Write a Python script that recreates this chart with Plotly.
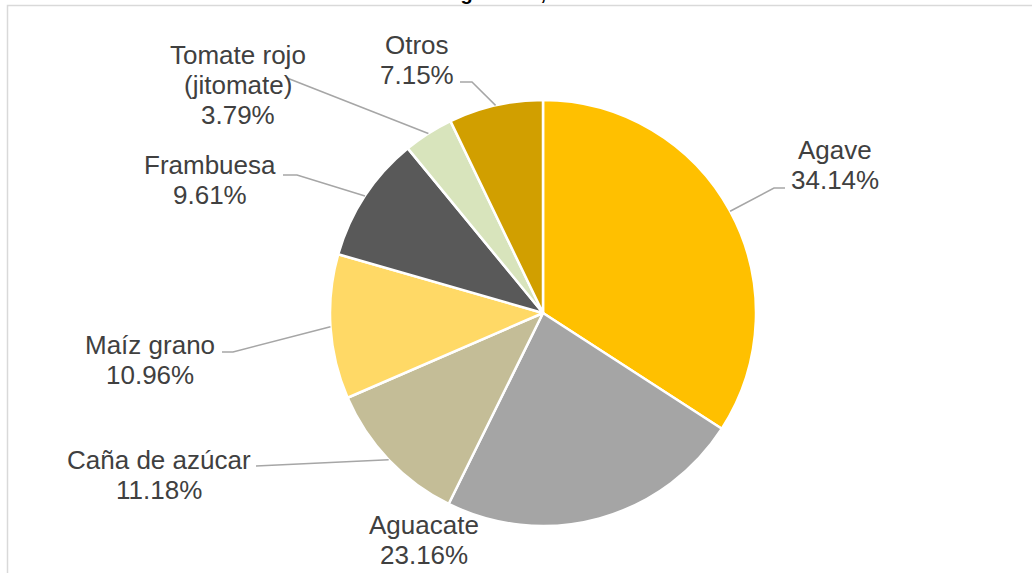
import math
import plotly.graph_objects as go

categories = ["Agave", "Aguacate", "Caña de azúcar", "Maíz grano", "Frambuesa",
              "Tomate rojo<br>(jitomate)", "Otros"]
values = [34.14, 23.16, 11.18, 10.96, 9.61, 3.79, 7.15]
value_labels = ["34.14%", "23.16%", "11.18%", "10.96%", "9.61%", "3.79%", "7.15%"]
colors = ["#FFC000", "#A5A5A5", "#C4BD97", "#FFD966", "#595959", "#D8E4BC", "#D19F00"]
title_text = "Región Sur, 2020"

W, H = 1032, 573
CX, CY, R = 543, 313, 213
LINE = 30

# label centre x and first-line centre y (pixels); leader elbows (None = no leader)
label_pos = [(835, 150), (424, 525), (159, 460), (150, 345), (210, 165), (238, 55), (417, 45)]
leader_elbow = [[(774, 188), (785, 188)], None, [(256, 466)], [(233, 352), (222, 352)],
                [(297, 175), (283, 175)], [(287, 78)], [(472, 82), (460, 82)]]

def px(x, y):
    return x / W, 1 - y / H

fig = go.Figure()
x0, y1 = px(CX - R, CY - R)
x1, y0 = px(CX + R, CY + R)
fig.add_trace(go.Pie(
    labels=[c.replace("<br>", " ") for c in categories], values=values,
    sort=False, direction="clockwise", rotation=0,
    marker=dict(colors=colors, line=dict(color="white", width=2.5)),
    textinfo="none", hoverinfo="label+percent",
    domain=dict(x=[x0, x1], y=[y0, y1]),
))

shapes = []
annotations = []
total = sum(values)
cum = 0.0
font = dict(family="Liberation Sans, Arial", size=26, color="#404040")
for i, v in enumerate(values):
    mid = (cum + v / 2) / total * 2 * math.pi
    cum += v
    ex = CX + R * math.sin(mid)
    ey = CY - R * math.cos(mid)
    if leader_elbow[i]:
        pts = [(ex, ey)] + leader_elbow[i]
        path = "M " + " L ".join(f"{p[0]/W:.5f},{1-p[1]/H:.5f}" for p in pts)
        shapes.append(dict(type="path", path=path, xref="paper", yref="paper",
                           line=dict(color="#A6A6A6", width=1.5), layer="above"))
    lines = categories[i].split("<br>") + [value_labels[i]]
    cx, cy = label_pos[i]
    for k, t in enumerate(lines):
        lx, ly = px(cx, cy + k * LINE)
        annotations.append(dict(x=lx, y=ly, xref="paper", yref="paper",
                                xanchor="center", yanchor="middle",
                                text=t, showarrow=False, font=font))

# chart border
shapes.append(dict(type="rect", xref="paper", yref="paper",
                   x0=7.5 / W, x1=1.05, y0=-0.05, y1=1 - 5.5 / H,
                   line=dict(color="#D9D9D9", width=1.5), layer="below"))

annotations.append(dict(x=515 / W, y=1, xref="paper", yref="paper",
                        xanchor="center", yanchor="bottom",
                        yshift=-6, text=f"<b>{title_text}</b>", showarrow=False,
                        font=dict(family="Liberation Sans, Arial", size=20, color="#000000")))

fig.update_layout(width=W, height=H, autosize=False,
                  margin=dict(l=0, r=0, t=0, b=0),
                  paper_bgcolor="white", plot_bgcolor="white",
                  showlegend=False, shapes=shapes, annotations=annotations)

fig.write_html("out.html", config={"displayModeBar": False},
               post_script="document.body.style.margin='0';document.body.style.overflow='hidden';")
